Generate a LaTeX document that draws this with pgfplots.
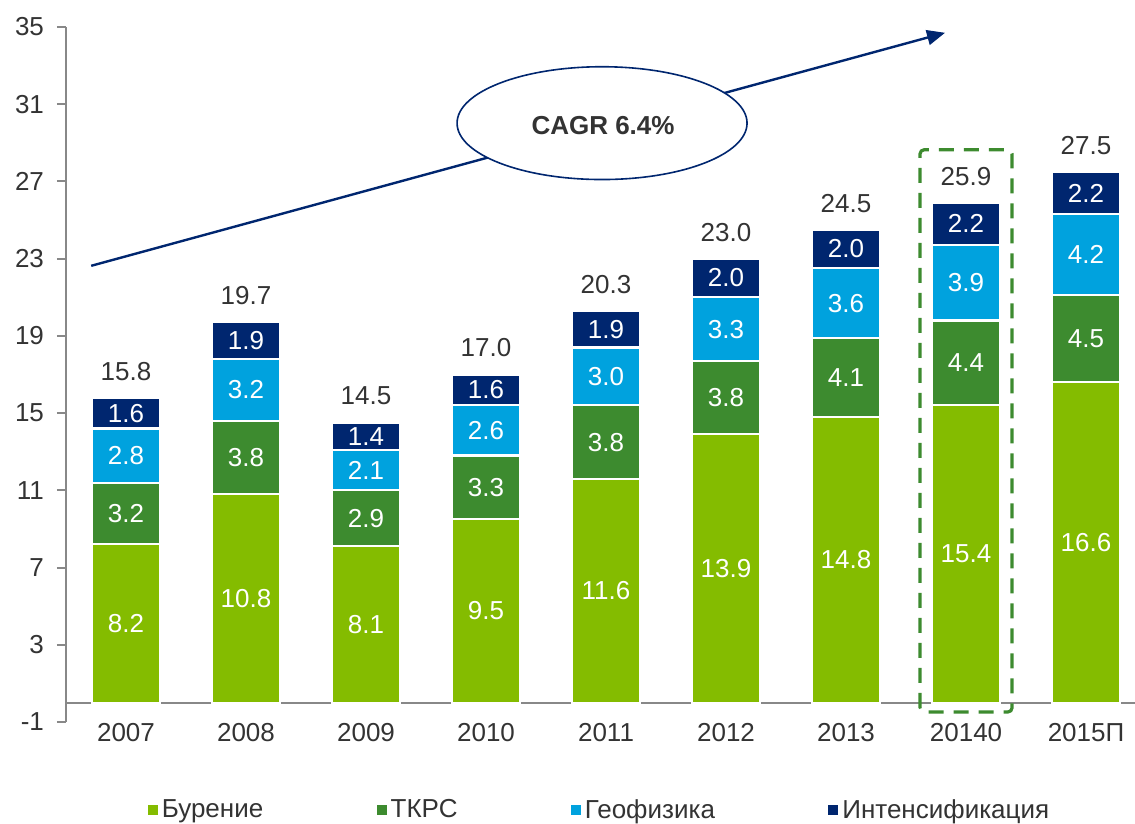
\documentclass[border=0pt]{standalone}
\usepackage{fontspec}
\setmainfont{Liberation Sans}
\usepackage{pgfplots}
\usepackage{pgfplotstable}
\pgfplotsset{compat=1.18}
\usetikzlibrary{arrows.meta}
\definecolor{cBur}{HTML}{84BC00}
\definecolor{cTkrs}{HTML}{3D8B2F}
\definecolor{cGeo}{HTML}{00A2DE}
\definecolor{cInt}{HTML}{00266F}
\definecolor{txt}{HTML}{333333}
\definecolor{axgray}{HTML}{888888}

\pgfplotstableread{
x bur tkrs geo int tot
0 8.2 3.2 2.8 1.6 15.8
1 10.8 3.8 3.2 1.9 19.7
2 8.1 2.9 2.1 1.4 14.5
3 9.5 3.3 2.6 1.6 17.0
4 11.6 3.8 3.0 1.9 20.3
5 13.9 3.8 3.3 2.0 23.0
6 14.8 4.1 3.6 2.0 24.5
7 15.4 4.4 3.9 2.2 25.9
8 16.6 4.5 4.2 2.2 27.5
}\data

\newcommand\fs{\fontsize{13}{15.6}\selectfont}

\begin{document}
\begin{tikzpicture}
\pgfplotsset{common/.style={scale only axis, width=534.5pt, height=347.5pt,
  xmin=-0.5, xmax=8.408, ymin=-1, ymax=35, enlargelimits=false}}
\begin{axis}[common, ybar stacked, bar width=34pt,
  axis y line*=left, axis x line*=bottom,
  x axis line style={draw=none},
  y axis line style={axgray, line width=1pt},
  xtick={0,...,8},
  xticklabels={2007,2008,2009,2010,2011,2012,2013,20140,2015П},
  ytick={-1,3,...,35},
  tick align=outside, major tick length=4.5pt,
  xtick style={draw=none},
  ytick style={axgray, line width=1pt},
  ticklabel style={font=\fs, text=txt},
  /pgf/number format/assume math mode=true,
  xticklabel style={yshift=7.5pt},
  yticklabel style={xshift=-3pt},
  extra y ticks={0}, extra y tick labels={},
  extra y tick style={grid=major, major grid style={axgray, line width=1pt}, major tick length=0pt},
  legend columns=4,
  legend style={at={(0.5,-0.127)}, anchor=center, draw=none, fill=none,
    font=\fs, text=txt, nodes={inner xsep=2pt},
    /tikz/every even column/.append style={column sep=54.7pt}},
  legend image code/.code={\path[#1, draw=none] (0pt,-2.5pt) rectangle (5pt,2.5pt);},
]
\addplot[fill=cBur, draw=white, line width=1.1pt] table[x=x, y=bur]\data;
\addlegendentry{Бурение}
\addplot[fill=cTkrs, draw=white, line width=1.1pt] table[x=x, y=tkrs]\data;
\addlegendentry{ТКРС}
\addplot[fill=cGeo, draw=white, line width=1.1pt] table[x=x, y=geo]\data;
\addlegendentry{Геофизика}
\addplot[fill=cInt, draw=white, line width=1.1pt] table[x=x, y=int]\data;
\addlegendentry{Интенсификация}
\end{axis}

\begin{axis}[common, hide axis, clip=false,
  nodes near coords, point meta=explicit symbolic,
  every node near coord/.style={font=\fs, text=white, anchor=center}]
\addplot[draw=none, mark=none] table[x=x, y expr=\thisrow{bur}/2, meta=bur]\data;
\addplot[draw=none, mark=none] table[x=x, y expr=\thisrow{bur}+\thisrow{tkrs}/2, meta=tkrs]\data;
\addplot[draw=none, mark=none] table[x=x, y expr=\thisrow{bur}+\thisrow{tkrs}+\thisrow{geo}/2, meta=geo]\data;
\addplot[draw=none, mark=none] table[x=x, y expr=\thisrow{bur}+\thisrow{tkrs}+\thisrow{geo}+\thisrow{int}/2, meta=int]\data;
\addplot[draw=none, mark=none, nodes near coords style={text=txt, yshift=13.3pt}] table[x=x, y=tot, meta=tot]\data;

\draw[cInt, line width=1.2pt, -{Triangle[length=9pt, width=7.5pt]}] (axis cs:-0.29,22.63) -- (axis cs:6.825,34.7);
\draw[cInt, line width=0.8pt, fill=white] (axis cs:3.967,30.02) ellipse [x radius=72.5pt, y radius=28.2pt];
\node[font=\fs\bfseries, text=txt] at (axis cs:3.975,29.9) {CAGR 6.4\%};
\draw[cTkrs, line width=1.6pt, dash pattern=on 7.5pt off 5pt, rounded corners=2pt]
  (axis cs:6.617,-0.48) rectangle (axis cs:7.383,28.64);
\end{axis}
\pgfresetboundingbox
\path (-33pt,-51pt) rectangle (534.5pt,361pt);
\end{tikzpicture}
\end{document}
